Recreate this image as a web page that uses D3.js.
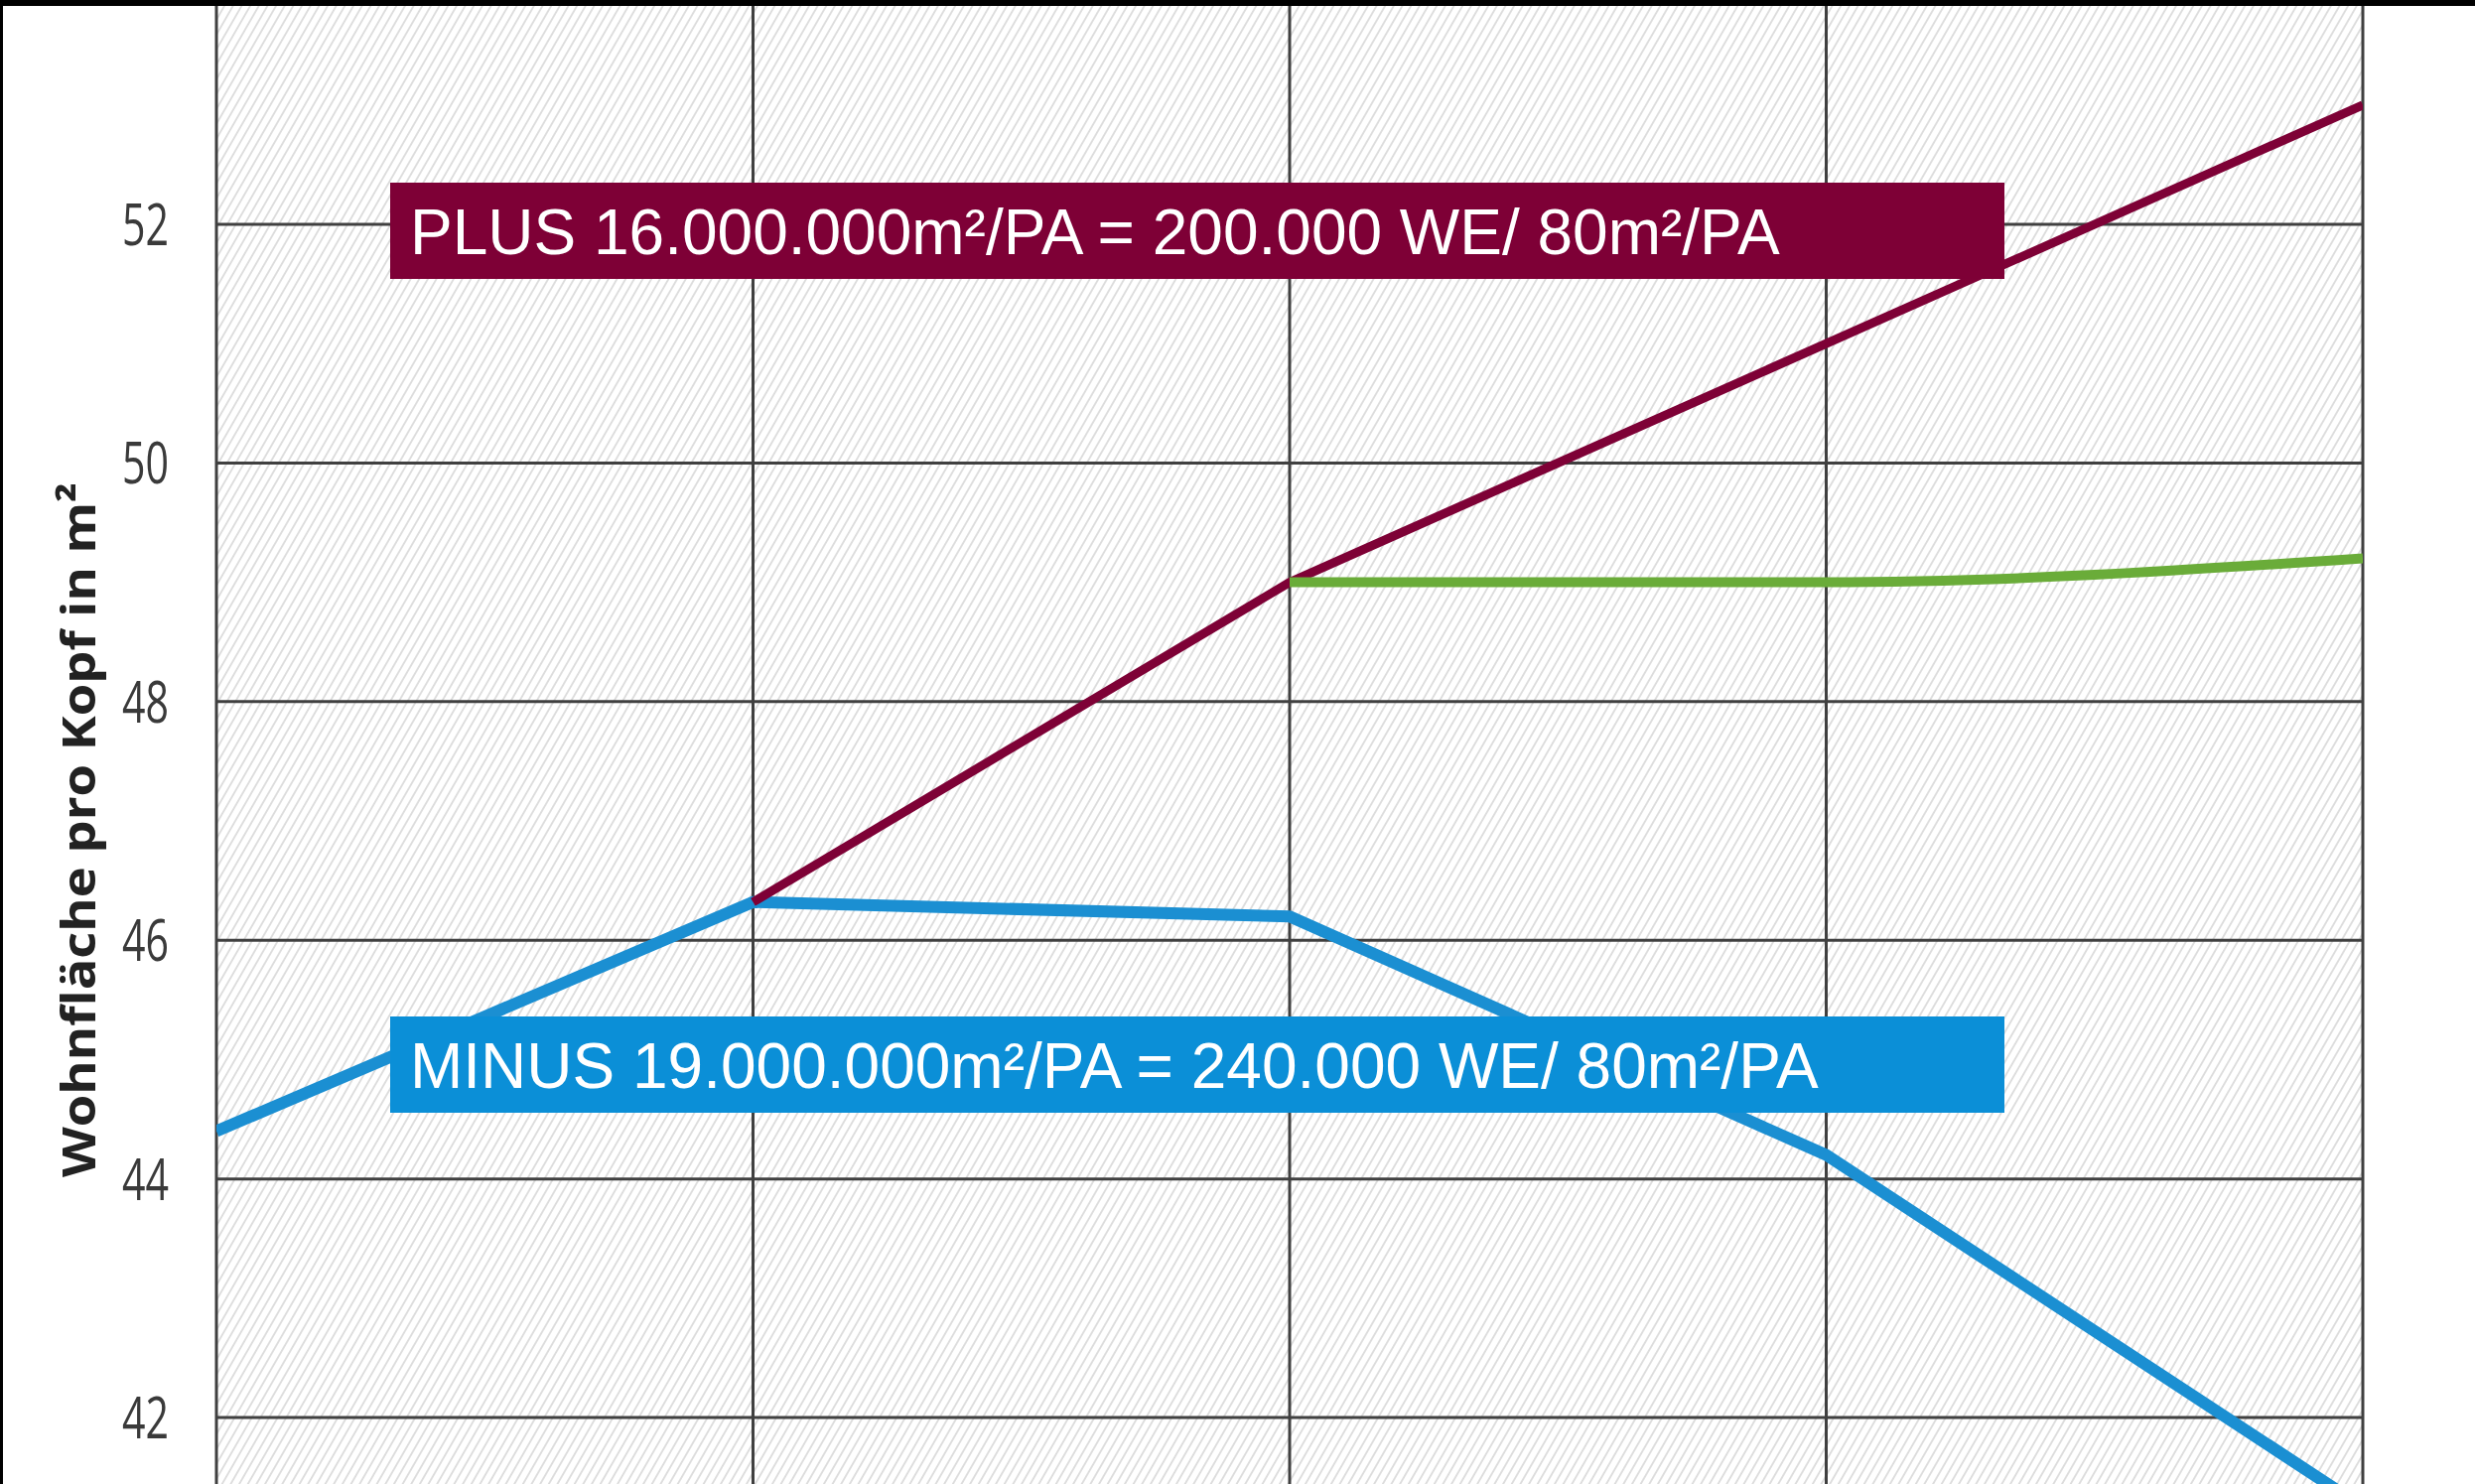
<!DOCTYPE html>
<html>
<head>
<meta charset="utf-8">
<script src="https://cdn.jsdelivr.net/npm/d3@7"></script>
<style>
    body { margin: 0; background: white; }
    svg { display: block; }
</style>
</head>
<body>
<svg id="chart" width="2493" height="1495"></svg>
<script>
/* Chart values. Steps along x have no labels in the original. */
const steps = ["s0", "s1", "s2", "s3", "s4"];
const yTicks = [42, 44, 46, 48, 50, 52];
const minusValues = [44.4, 46.32, 46.2, 44.2, 41.25];
const plusValues = [null, 46.32, 49.0, 51.0, 53.0];
const greenValues = [null, null, 49.0, 49.0, 49.2];
const yTitle = "Wohnfläche pro Kopf in m²";
const plusLabel = "PLUS 16.000.000m²/PA = 200.000 WE/ 80m²/PA";
const minusLabel = "MINUS 19.000.000m²/PA = 240.000 WE/ 80m²/PA";

function createChart() {
    const svg = d3.select("#chart");
    const width = 2493;
    const height = 1495;
    const plot = { left: 218, right: 2380, top: 6, bottom: 1495 };

    const xScale = d3.scalePoint()
        .domain(steps)
        .range([plot.left, plot.right])
        .padding(0);

    const yScale = d3.scaleLinear()
        .domain([41.443, 53.83])
        .range([plot.bottom, plot.top]);

    const defs = svg.append("defs");

    // thin diagonal hatching behind the grid
    const pattern = defs.append("pattern")
        .attr("id", "hatch")
        .attr("patternUnits", "userSpaceOnUse")
        .attr("width", 7.5)
        .attr("height", 7.5)
        .attr("patternTransform", "rotate(30)");
    pattern.append("rect")
        .attr("width", 7.5)
        .attr("height", 7.5)
        .style("fill", "white");
    pattern.append("line")
        .attr("x1", 3.75).attr("y1", 0)
        .attr("x2", 3.75).attr("y2", 7.5)
        .style("stroke", "#d2d2d2")
        .style("stroke-width", 1.4);

    defs.append("clipPath")
        .attr("id", "plot-clip")
        .append("rect")
        .attr("x", plot.left)
        .attr("y", plot.top)
        .attr("width", plot.right - plot.left)
        .attr("height", plot.bottom - plot.top);

    svg.append("rect")
        .attr("width", width)
        .attr("height", height)
        .style("fill", "white");

    svg.append("rect")
        .attr("x", plot.left)
        .attr("y", plot.top)
        .attr("width", plot.right - plot.left)
        .attr("height", plot.bottom - plot.top)
        .style("fill", "url(#hatch)");

    // grid
    svg.append("g")
        .selectAll("line")
        .data(yTicks)
        .enter().append("line")
        .attr("x1", plot.left)
        .attr("x2", plot.right)
        .attr("y1", d => yScale(d))
        .attr("y2", d => yScale(d))
        .style("stroke", "#404040")
        .style("stroke-width", 3);

    svg.append("g")
        .selectAll("line")
        .data(steps)
        .enter().append("line")
        .attr("x1", d => xScale(d))
        .attr("x2", d => xScale(d))
        .attr("y1", plot.top)
        .attr("y2", plot.bottom)
        .style("stroke", "#404040")
        .style("stroke-width", 3);

    // tick labels, squeezed to look like the condensed original
    svg.append("g")
        .selectAll("text")
        .data(yTicks)
        .enter().append("text")
        .attr("x", 170)
        .attr("y", d => yScale(d))
        .attr("dy", "0.36em")
        .attr("text-anchor", "end")
        .attr("textLength", 47)
        .attr("lengthAdjust", "spacingAndGlyphs")
        .style("font-family", "'Open Sans', sans-serif")
        .style("font-size", "58px")
        .style("fill", "#3a3a3a")
        .text(d => d);

    svg.append("text")
        .attr("transform", "translate(96,836) rotate(-90)")
        .attr("text-anchor", "middle")
        .attr("textLength", 700)
        .attr("lengthAdjust", "spacingAndGlyphs")
        .style("font-family", "'Open Sans', sans-serif")
        .style("font-weight", "bold")
        .style("font-size", "47px")
        .style("fill", "#222")
        .text(yTitle);

    // lines
    const lines = svg.append("g").attr("clip-path", "url(#plot-clip)");

    function drawLine(values, color, strokeWidth, curve) {
        const line = d3.line()
            .defined(d => d != null)
            .x((d, i) => xScale(steps[i]))
            .y(d => yScale(d))
            .curve(curve);
        lines.append("path")
            .datum(values)
            .attr("d", line)
            .style("fill", "none")
            .style("stroke", color)
            .style("stroke-width", strokeWidth)
            .style("stroke-linejoin", "round");
    }

    drawLine(minusValues, "#1b8fd2", 12, d3.curveLinear);
    drawLine(plusValues, "#7e0136", 9, d3.curveLinear);
    drawLine(greenValues, "#6aac39", 10, d3.curveMonotoneX);

    // label boxes
    const boxes = [
        { text: plusLabel, y: 184, color: "#7e0036" },
        { text: minusLabel, y: 1024, color: "#0b8fd7" }
    ];

    boxes.forEach(b => {
        svg.append("rect")
            .attr("x", 393)
            .attr("y", b.y)
            .attr("width", 1626)
            .attr("height", 97)
            .style("fill", b.color);
        svg.append("text")
            .attr("x", 413)
            .attr("y", b.y + 72)
            .style("font-family", "'Liberation Sans', Arial, sans-serif")
            .style("font-size", "64px")
            .style("fill", "white")
            .text(b.text);
    });

    // black frame on top and left
    svg.append("rect")
        .attr("x", 0).attr("y", 0)
        .attr("width", width).attr("height", 6)
        .style("fill", "black");
    svg.append("rect")
        .attr("x", 0).attr("y", 0)
        .attr("width", 3).attr("height", height)
        .style("fill", "black");
}

document.addEventListener('DOMContentLoaded', function() {
    createChart();
});
</script>
</body>
</html>
